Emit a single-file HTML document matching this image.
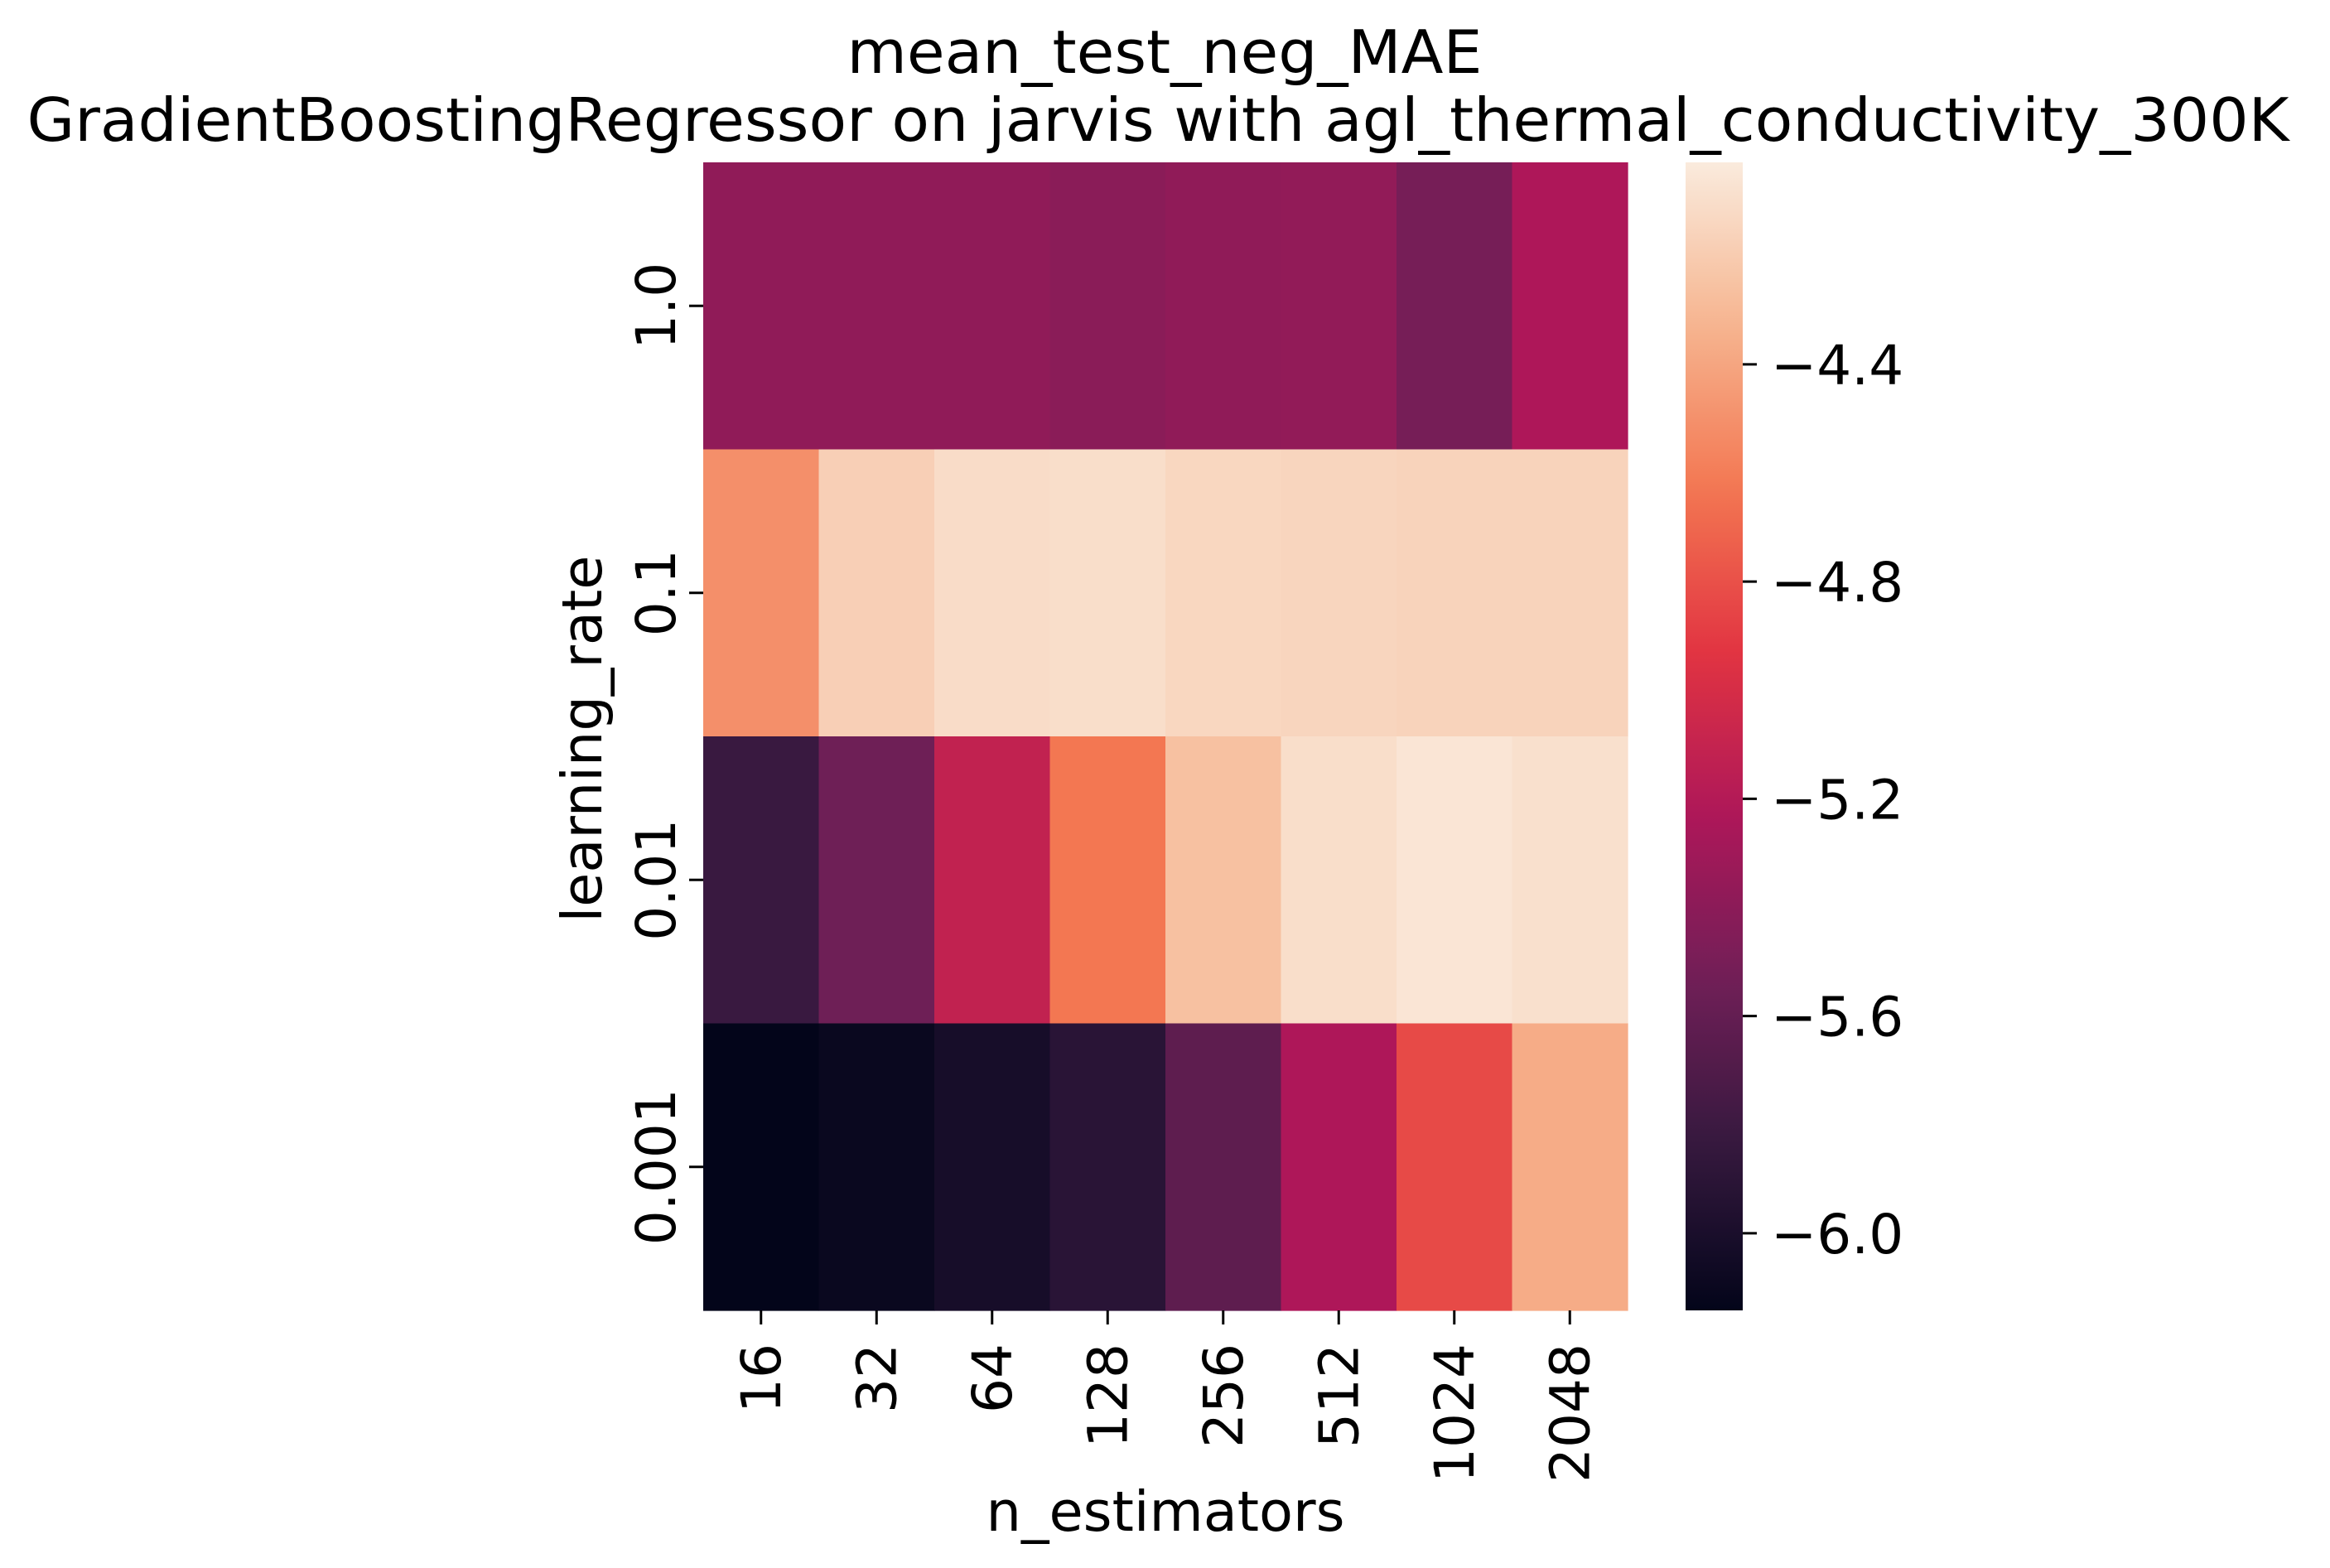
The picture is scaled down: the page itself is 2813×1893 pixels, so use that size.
<!DOCTYPE html>
<html><head><meta charset="utf-8"><style>
html,body{margin:0;padding:0;background:#fff;}
svg{display:block;font-family:"DejaVu Sans","Liberation Sans",sans-serif;}
</style></head><body>
<svg id="chart" width="2813" height="1893" viewBox="0 0 2813 1893" xmlns="http://www.w3.org/2000/svg">
<text x="1406" y="88" font-size="72" text-anchor="middle" textLength="767" lengthAdjust="spacingAndGlyphs">mean_test_neg_MAE</text>
<text x="1398" y="170" font-size="72" text-anchor="middle" textLength="2731" lengthAdjust="spacingAndGlyphs">GradientBoostingRegressor on jarvis with agl_thermal_conductivity_300K</text>
<g id="cells"></g>
<g id="axes"></g>
<text x="1407" y="1848" font-size="67" text-anchor="middle">n_estimators</text>
<text transform="translate(726,892) rotate(-90)" font-size="67" text-anchor="middle">learning_rate</text>
</svg>
<script>
const xCategories = ["16","32","64","128","256","512","1024","2048"];
const yCategories = ["1.0","0.1","0.01","0.001"];
const row_1_0   = [-5.38,-5.38,-5.38,-5.41,-5.38,-5.37,-5.51,-5.23];
const row_0_1   = [-4.51,-4.18,-4.11,-4.10,-4.14,-4.15,-4.16,-4.16];
const row_0_01  = [-5.82,-5.55,-5.12,-4.63,-4.26,-4.10,-4.06,-4.09];
const row_0_001 = [-6.14,-6.10,-6.02,-5.91,-5.63,-5.23,-4.83,-4.37];
const colorbarTicks = [-4.4,-4.8,-5.2,-5.6,-6.0];
const colorbarTickLabels = ["\u22124.4","\u22124.8","\u22125.2","\u22125.6","\u22126.0"];
const vmin = -6.142, vmax = -4.028;

const rows = [row_1_0,row_0_1,row_0_01,row_0_001];
const NS="http://www.w3.org/2000/svg";
const L=849,R=1965,T=196,B=1582, CBL=2035,CBR=2104;
const cw=(R-L)/xCategories.length, ch=(B-T)/yCategories.length;
const xPos=i=>L+i*cw, yPos=j=>T+j*ch;
const cbY=v=>B-(v-vmin)/(vmax-vmin)*(B-T);
const anchors=[[0,[3,5,26]],[0.143,[53,25,62]],[0.286,[112,31,87]],[0.429,[173,23,89]],[0.571,[225,51,66]],[0.714,[243,118,81]],[0.857,[246,180,143]],[1,[250,235,221]]];
function rocket(t){t=Math.max(0,Math.min(1,t));for(let k=1;k<anchors.length;k++){if(t<=anchors[k][0]){const a=anchors[k-1],b=anchors[k];const f=(t-a[0])/(b[0]-a[0]);const c=a[1].map((v,i)=>Math.round(v+(b[1][i]-v)*f));return `rgb(${c.join(',')})`;}}return 'rgb(250,235,221)';}
const color=v=>rocket((v-vmin)/(vmax-vmin));
function mk(tag,attrs,parent){const e=document.createElementNS(NS,tag);for(const k in attrs)e.setAttribute(k,attrs[k]);parent.appendChild(e);return e;}
const cells=document.getElementById('cells'), axes=document.getElementById('axes');
rows.forEach((row,j)=>row.forEach((v,i)=>{
  const r=mk('rect',{x:xPos(i),y:yPos(j),width:cw+0.6,height:ch+0.6,fill:color(v)},cells);
  
  
}));
xCategories.forEach((c,i)=>{
  const cx=xPos(i)+cw/2;
  const t=mk('line',{x1:cx,x2:cx,y1:B,y2:B+17,stroke:'#000','stroke-width':3},axes);
  
  
  const tx=mk('text',{transform:`translate(${cx+23},1622) rotate(-90)`,'font-size':66,'text-anchor':'end'},axes);
  tx.textContent=c;
  
  
});
yCategories.forEach((c,j)=>{
  const cy=yPos(j)+ch/2;
  const t=mk('line',{x1:L-17,x2:L,y1:cy,y2:cy,stroke:'#000','stroke-width':3},axes);
  
  
  const tx=mk('text',{transform:`translate(${L-34},${cy}) rotate(-90)`,'font-size':66,'text-anchor':'middle'},axes);
  tx.textContent=c;
  
  
});
const defs=mk('defs',{},document.getElementById('chart'));
const grad=mk('linearGradient',{id:'cbg',x1:0,y1:1,x2:0,y2:0},defs);
for(let k=0;k<=40;k++){mk('stop',{offset:k/40,'stop-color':rocket(k/40)},grad);}
const cb=mk('rect',{x:CBL,y:T,width:CBR-CBL,height:B-T,fill:'url(#cbg)'},axes);


colorbarTicks.forEach((v,k)=>{
  const y=cbY(v);
  const t=mk('line',{x1:CBR,x2:CBR+17,y1:y,y2:y,stroke:'#000','stroke-width':3},axes);
  
  
  const tx=mk('text',{x:CBR+34,y:y+24,'font-size':66},axes);
  tx.textContent=colorbarTickLabels[k];
  
  
});
</script>
</body></html>
